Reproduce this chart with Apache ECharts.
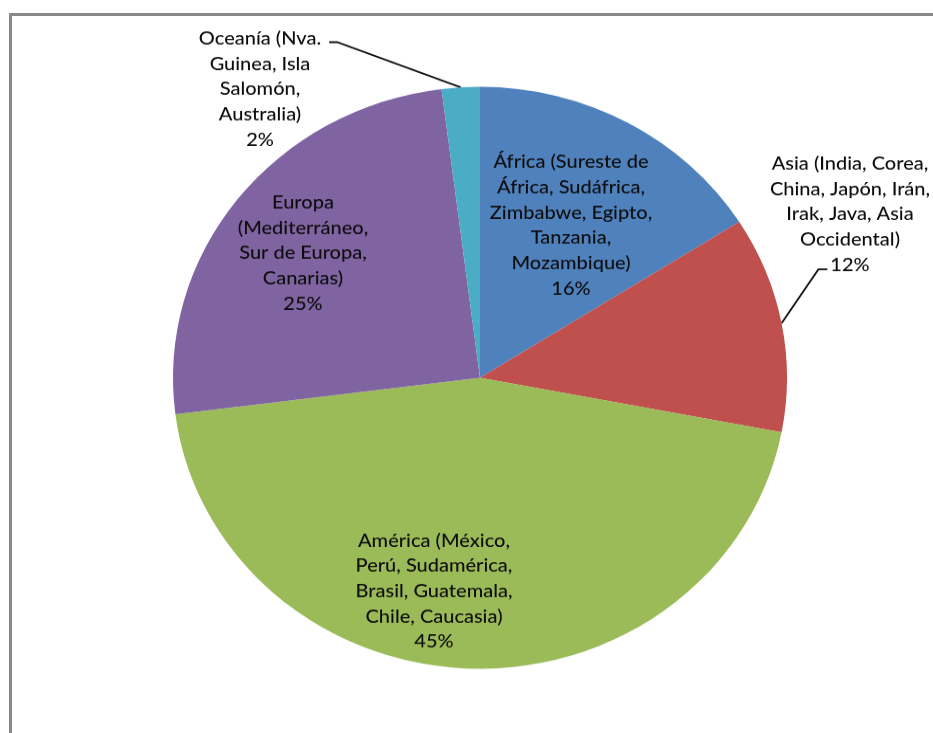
<!DOCTYPE html>
<html>
<head>
<meta charset="utf-8">
<script src="https://cdn.jsdelivr.net/npm/echarts@6/dist/echarts.min.js"></script>
<style>
  html, body { margin: 0; padding: 0; background: #ffffff; overflow: hidden; }
  body { width: 933px; height: 733px; position: relative; }
  #frame {
    position: absolute; left: 9px; top: 13px; width: 980px; height: 780px;
    border: 3px solid #8a8a8a; box-sizing: border-box;
  }
  /* the plot is drawn slightly wider than tall */
  #chart {
    position: absolute; left: 0; top: 0; width: 933px; height: 773px;
    transform: scaleY(0.9479); transform-origin: 0 0;
  }
</style>
</head>
<body>
<div id="frame"></div>
<div id="chart"></div>
<script>
// Regions and their share of the total
const regions = [
  'África (Sureste de\nÁfrica, Sudáfrica,\nZimbabwe, Egipto,\nTanzania,\nMozambique)',
  'Asia (India, Corea,\nChina, Japón, Irán,\nIrak, Java, Asia\nOccidental)',
  'América (México,\nPerú, Sudamérica,\nBrasil, Guatemala,\nChile, Caucasia)',
  'Europa\n(Mediterráneo,\nSur de Europa,\nCanarias)',
  'Oceanía (Nva.\nGuinea, Isla\nSalomón,\nAustralia)'
];
const shares = [16, 12, 45, 25, 2];
const sliceColors = ['#4f81bd', '#c0504d', '#9bbb59', '#8064a2', '#4bacc6'];
const outsideLabel = [false, true, false, false, true];

// Layout of the pie and its labels
const CX = 480, CY = 398.5, R = 307;
const FONT_SIZE = 20, LINE_H = 26.7, FONT = 'Lato', WEIGHT = 500;
// label centre relative to the pie centre
const labelSpots = [
  [91, -161], [370, -172.7], [-46, 225], [-177, -131.6], [-220, -304.6]
];

const measureCtx = document.createElement('canvas').getContext('2d');
measureCtx.font = WEIGHT + ' ' + FONT_SIZE + 'px ' + FONT;
const textWidth = s => measureCtx.measureText(s).width;

const chart = echarts.init(document.getElementById('chart'), null, { renderer: 'canvas' });

const data = regions.map((name, i) => ({
  name: name,
  value: shares[i],
  itemStyle: { color: sliceColors[i] },
  label: { position: outsideLabel[i] ? 'outside' : 'inside' },
  labelLine: { show: outsideLabel[i] }
}));

chart.setOption({
  animation: false,
  backgroundColor: 'transparent',
  series: [{
    type: 'pie',
    center: [CX, CY],
    radius: R,
    startAngle: 90,
    clockwise: true,
    avoidLabelOverlap: false,
    data: data,
    itemStyle: { borderWidth: 0 },
    emphasis: { disabled: true },
    label: {
      show: true,
      color: '#0d0d0d',
      fontFamily: FONT,
      fontWeight: WEIGHT,
      fontSize: FONT_SIZE,
      lineHeight: LINE_H,
      formatter: p => p.name.split('\n').concat([p.value + '%'])
        .map(l => '{c|' + l + '}').join('\n'),
      rich: {
        c: {
          align: 'center', fontFamily: FONT, fontWeight: WEIGHT,
          fontSize: FONT_SIZE, lineHeight: LINE_H, color: '#0d0d0d'
        }
      }
    },
    labelLine: {
      show: false,
      length: 20,
      length2: 8,
      lineStyle: { color: '#111111', width: 1.8 }
    }
  }]
});

chart.setOption({
  series: [{
    labelLayout: function (p) {
      const i = p.dataIndex;
      const x = CX + labelSpots[i][0];
      const y = CY + labelSpots[i][1];
      const out = { x: x, y: y, align: 'center', verticalAlign: 'middle' };
      if (outsideLabel[i] && p.labelLinePoints) {
        const anchor = p.labelLinePoints[0];
        const lines = regions[i].split('\n').concat([shares[i] + '%']);
        const n = lines.length;
        if (i === 1) {
          // attach to the left of the percentage line
          const ay = y + (n - 1) / 2 * LINE_H + 5;
          const ax = x - textWidth(lines[n - 1]) / 2 - 3;
          out.labelLinePoints = [[anchor[0], anchor[1]], [ax - 9, ay], [ax, ay]];
        } else {
          // attach to the right of the first line
          const ay = y - (n - 1) / 2 * LINE_H + 4;
          const ax = x + textWidth(lines[0]) / 2 + 8;
          out.labelLinePoints = [[anchor[0], anchor[1]], [ax + 8, ay], [ax, ay]];
        }
      }
      return out;
    }
  }]
});
</script>
</body>
</html>
